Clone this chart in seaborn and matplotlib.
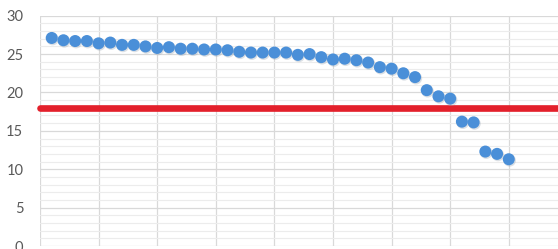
import matplotlib
matplotlib.use("Agg")
import matplotlib.pyplot as plt
import seaborn as sns
import pandas as pd
import numpy as np

# Data
idx = list(range(1, 41))
values = [27.1, 26.8, 26.7, 26.7, 26.4, 26.5, 26.2, 26.2, 26.0, 25.8,
          25.9, 25.7, 25.7, 25.6, 25.6, 25.5, 25.3, 25.2, 25.2, 25.2,
          25.2, 24.9, 25.0, 24.6, 24.3, 24.4, 24.2, 23.9, 23.3, 23.1,
          22.5, 22.0, 20.3, 19.5, 19.2, 16.2, 16.1, 12.3, 12.0, 11.3]
threshold = 18
y_ticks = [0, 5, 10, 15, 20, 25, 30]

df = pd.DataFrame({"idx": idx, "value": values})

sns.set_style("white")
plt.rcParams['font.family'] = ['Lato', 'DejaVu Sans']

fig = plt.figure(figsize=(5.58, 2.49), dpi=100)
ax = fig.add_axes([40/558, 3/249, 1 - 40/558, (246-15.7)/249])

ax.set_xlim(0, 44.2)
ax.set_ylim(0, 30)

# grid
ax.set_yticks(y_ticks)
ax.set_yticks(np.arange(0, 31, 1), minor=True)
ax.set_xticks(np.arange(0, 45, 5))
ax.grid(which='major', axis='y', color='#d9d9d9', linewidth=0.9)
ax.grid(which='minor', axis='y', color='#ececec', linewidth=0.8)
ax.grid(which='major', axis='x', color='#d9d9d9', linewidth=0.9)
ax.set_axisbelow(True)
ax.tick_params(axis='x', which='both', length=0, labelbottom=False)
ax.tick_params(axis='y', which='both', length=0, pad=12, labelsize=10.5, labelcolor='#595959')
for s in ax.spines.values():
    s.set_visible(False)

# threshold line
ax.axhline(threshold, color='#e3202b', linewidth=4.8, solid_capstyle='round', clip_on=False, zorder=2)

# shadow
sns.scatterplot(data=df, x=df["idx"] + 0.08, y=df["value"] - 0.15, ax=ax, s=80,
                color='#9aa7b5', alpha=0.35, edgecolor='none', legend=False, zorder=3)
sns.scatterplot(data=df, x="idx", y="value", ax=ax, s=75, color='#4a8fd8',
                edgecolor='none', legend=False, zorder=4)

ax.set_xlabel("")
ax.set_ylabel("")

fig.savefig("out.png", dpi=100)
